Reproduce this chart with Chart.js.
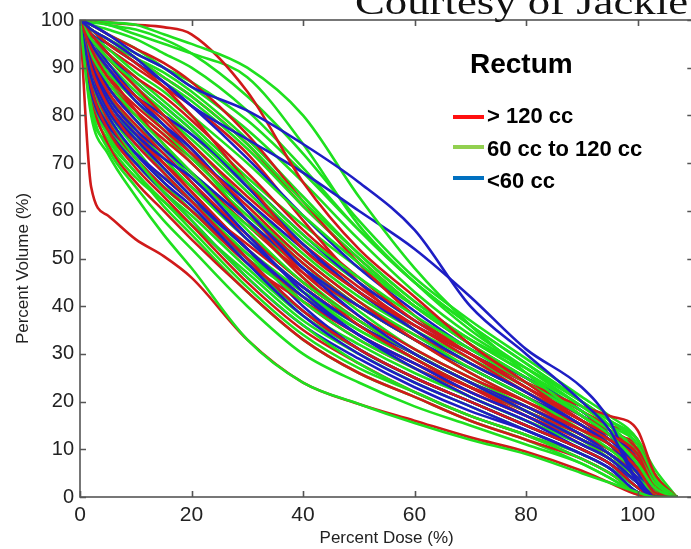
<!DOCTYPE html>
<html>
<head>
<meta charset="utf-8">
<script src="https://cdn.jsdelivr.net/npm/chart.js@4/dist/chart.umd.min.js"></script>
<style>
  html, body { margin: 0; padding: 0; background: #fff; overflow: hidden; }
  #wrap { width: 700px; height: 549px; }
</style>
</head>
<body>
<div id="wrap"><canvas id="dvh" width="700" height="549"></canvas></div>
<script>
// Dose grid (percent of prescription) shared by every DVH curve
const doseGrid = [0, 2, 5, 10, 15, 20, 30, 40, 50, 60, 70, 80, 90, 95, 100, 103, 107];

// Percent rectal volume receiving at least each dose, one row per patient
const redVolumes = [ // rectum > 120 cc
  [100, 65, 59, 54, 50.5, 46, 33, 24, 19.5, 16, 12.5, 9.5, 5.5, 3, 0.5, 0, 0],
  [100, 100, 99.5, 99, 98.5, 97, 85, 66, 52, 42, 32, 24, 16, 13, 9, 2, 0],
  [100, 94, 88, 82, 77, 72, 61, 50, 41, 33, 26, 20, 14, 11, 6, 1, 0],
  [100, 90, 82, 74, 68, 62, 50, 39, 31, 25, 20, 15, 10, 7, 2, 0, 0],
  [100, 97, 93, 88, 84, 79, 68, 56, 46, 37, 30, 23, 16, 13, 10, 3, 0],
  [100, 86, 77, 69, 63, 57, 45, 35, 28, 22, 17, 13, 8, 5, 1, 0, 0],
  [100, 98, 95, 91, 86, 80, 66, 52, 43, 36, 30, 24, 19, 17, 14, 5, 0],
  [100, 92, 85, 78, 72, 66, 55, 45, 37, 30, 24, 18, 12, 9, 4, 0.5, 0],
  [100, 95, 90, 84, 79, 73, 60, 47, 38, 31, 25, 20, 15, 12, 8, 2, 0],
  [100, 88, 79, 71, 65, 60, 49, 41, 34, 28, 22, 17, 12, 9, 5, 1, 0],
  [100, 96, 92, 86, 80, 74, 63, 53, 44, 36, 29, 22, 15, 11, 6, 1, 0],
  [100, 93, 86, 80, 75, 70, 58, 46, 36, 29, 23, 17, 11, 8, 3, 0, 0],
  [100, 99, 97, 94, 91, 87, 76, 62, 49, 38, 30, 23, 17, 14, 10, 3, 0],
  [100, 84, 74, 66, 60, 54, 43, 33, 26, 21, 16, 12, 8, 5, 1, 0, 0],
  [100, 91, 84, 77, 70, 64, 52, 42, 34, 28, 23, 18, 13, 10, 7, 2, 0],
  [100, 97, 94, 90, 86, 82, 72, 58, 45, 35, 28, 22, 16, 12, 8, 2, 0],
  [100, 89, 80, 72, 67, 62, 53, 44, 36, 29, 23, 19, 14, 12, 9, 3, 0],
  [100, 95, 89, 81, 74, 68, 57, 47, 40, 34, 28, 22, 16, 13, 11, 4, 0],
  [100, 93, 87, 81, 76, 71, 60, 49, 40, 33, 27, 21, 15, 11, 5, 0.5, 0],
  [100, 87, 81, 75, 70, 65, 55, 45, 37, 30, 24, 19, 13, 10, 6, 1, 0],
  [100, 98, 96, 92, 88, 84, 74, 61, 50, 40, 32, 25, 18, 15, 12, 4, 0],
  [100, 90, 83, 76, 70, 64, 52, 41, 33, 27, 22, 17, 12, 9, 4, 0, 0]
];
const greenVolumes = [ // rectum 60-120 cc
  [100, 80, 72, 63, 55, 48, 33, 24, 19.5, 15.5, 12, 9, 5, 3, 1, 0, 0],
  [100, 100, 99.5, 99, 97, 95, 90, 80, 63, 48, 36, 26, 17, 13, 7, 2, 0],
  [100, 99.5, 99, 97, 95, 93, 88, 74, 57, 45, 35, 27, 19, 15, 9, 3, 0],
  [100, 88, 80, 71, 64, 58, 46, 36, 28, 22, 17, 13, 8, 5, 1, 0, 0],
  [100, 96, 92, 87, 82, 77, 66, 55, 46, 38, 31, 24, 17, 13, 7, 2, 0],
  [100, 93, 87, 80, 74, 68, 56, 45, 37, 30, 24, 18, 12, 9, 4, 1, 0],
  [100, 98, 96, 92, 88, 84, 74, 62, 51, 41, 33, 26, 19, 15, 11, 4, 0],
  [100, 85, 76, 68, 62, 56, 44, 34, 27, 22, 17, 13, 9, 6, 2, 0, 0],
  [100, 94, 89, 83, 77, 71, 60, 50, 41, 34, 27, 21, 14, 10, 5, 1, 0],
  [100, 90, 83, 75, 68, 62, 51, 41, 33, 27, 21, 16, 11, 8, 3, 0, 0],
  [100, 97, 94, 89, 85, 80, 70, 59, 49, 40, 32, 25, 18, 14, 10, 4, 0],
  [100, 99, 98, 96, 93, 90, 81, 69, 56, 45, 36, 28, 20, 16, 11, 4, 0],
  [100, 82, 73, 65, 58, 52, 40, 30, 24, 19, 15, 11, 7, 4, 1, 0, 0],
  [100, 95, 91, 85, 80, 75, 64, 53, 43, 35, 28, 22, 15, 11, 6, 1, 0],
  [100, 92, 86, 79, 73, 67, 57, 48, 40, 33, 27, 21, 15, 12, 8, 3, 0],
  [100, 87, 78, 70, 64, 59, 48, 38, 31, 25, 20, 15, 10, 7, 2, 0, 0],
  [100, 98, 95, 91, 87, 83, 73, 61, 50, 40, 32, 25, 17, 13, 8, 2, 0],
  [100, 91, 84, 77, 71, 65, 54, 44, 36, 29, 23, 18, 13, 10, 6, 1, 0],
  [100, 96, 93, 88, 83, 78, 67, 57, 48, 40, 33, 27, 20, 16, 12, 6, 0],
  [100, 89, 81, 73, 66, 60, 49, 39, 32, 26, 21, 16, 11, 8, 4, 0, 0],
  [100, 99, 97, 94, 90, 86, 77, 66, 54, 43, 34, 27, 20, 16, 12, 5, 0],
  [100, 94, 88, 81, 76, 70, 59, 49, 40, 33, 26, 20, 14, 11, 7, 2, 0],
  [100, 83, 75, 68, 61, 55, 43, 33, 26, 21, 16, 12, 7, 4, 0.5, 0, 0],
  [100, 97, 93, 86, 80, 74, 62, 51, 42, 35, 29, 23, 16, 12, 8, 3, 0],
  [100, 86, 78, 71, 65, 60, 50, 42, 35, 29, 23, 18, 12, 9, 5, 1, 0],
  [100, 100, 99, 98, 96, 93, 84, 72, 58, 46, 37, 29, 21, 17, 12, 4, 0],
  [100, 95, 90, 84, 78, 72, 58, 46, 37, 30, 24, 19, 13, 10, 6, 1, 0],
  [100, 90, 84, 78, 73, 68, 58, 48, 39, 31, 25, 19, 13, 9, 4, 0, 0],
  [100, 97, 95, 92, 89, 85, 75, 63, 51, 41, 33, 26, 18, 14, 9, 2, 0],
  [100, 84, 76, 70, 65, 60, 51, 43, 36, 30, 24, 19, 13, 10, 5, 1, 0],
  [100, 92, 85, 76, 69, 63, 52, 43, 35, 29, 23, 18, 12, 8, 3, 0, 0],
  [100, 98, 96, 93, 90, 87, 79, 68, 56, 45, 36, 28, 20, 15, 9, 2, 0],
  [100, 81, 74, 67, 62, 57, 47, 37, 30, 24, 19, 14, 9, 6, 2, 0, 0],
  [100, 96, 92, 86, 81, 76, 65, 54, 45, 37, 31, 25, 18, 14, 9, 3, 0]
];
const blueVolumes = [ // rectum < 60 cc
  [100, 99, 97, 93, 90, 86, 81, 74, 66, 56, 40, 30, 20, 14, 3, 0, 0],
  [100, 98, 96, 92, 87, 82, 75, 68, 60, 52, 42, 31, 23, 16, 3, 0, 0],
  [100, 88, 80, 72, 66, 61, 49, 38, 30, 24, 19, 14, 9, 6, 1, 0, 0],
  [100, 91, 83, 76, 71, 67, 55, 43, 34, 27, 21, 16, 10, 7, 2, 0, 0],
  [100, 95, 90, 83, 78, 73, 60, 48, 38, 30, 24, 18, 12, 9, 4, 0, 0],
  [100, 85, 77, 70, 64, 58, 46, 36, 29, 23, 18, 14, 9, 6, 1, 0, 0],
  [100, 97, 93, 87, 82, 77, 65, 53, 43, 35, 28, 22, 15, 11, 5, 0, 0],
  [100, 90, 82, 75, 69, 63, 52, 42, 34, 28, 22, 17, 11, 8, 3, 0, 0],
  [100, 93, 86, 79, 73, 68, 58, 48, 40, 33, 27, 21, 15, 11, 6, 1, 0],
  [100, 86, 78, 72, 67, 62, 52, 40, 31, 25, 20, 15, 10, 7, 2, 0, 0],
  [100, 96, 91, 84, 78, 72, 62, 52, 43, 36, 30, 24, 17, 13, 8, 1, 0],
  [100, 92, 84, 77, 72, 66, 54, 44, 36, 30, 24, 19, 13, 9, 4, 0, 0],
  [100, 94, 89, 84, 80, 76, 66, 55, 45, 37, 30, 23, 16, 12, 6, 0, 0],
  [100, 89, 81, 74, 68, 62, 50, 39, 31, 25, 20, 15, 10, 7, 3, 0, 0],
  [100, 97, 95, 91, 87, 82, 71, 59, 48, 39, 31, 25, 18, 13, 6, 0, 0]
];

const xTickValues = [0, 20, 40, 60, 80, 100];
const yTickValues = [0, 10, 20, 30, 40, 50, 60, 70, 80, 90, 100];
const legendTitle = 'Rectum';
const legendLabels = ['> 120 cc', '60 cc to 120 cc', '<60 cc'];
const legendColors = ['#ff1010', '#92d050', '#0070c0'];
const lineColors = { red: '#d01a1a', green: '#1fe01f', blue: '#1e1ec4' };

function curve(vols, color) {
  return {
    data: doseGrid.map((d, i) => ({ x: d, y: vols[i] })),
    borderColor: color,
    borderWidth: 2.6,
    pointRadius: 0,
    fill: false,
    cubicInterpolationMode: 'monotone'
  };
}

// Interleave the three size groups so no colour sits entirely on top
const datasets = [];
const n = Math.max(redVolumes.length, greenVolumes.length, blueVolumes.length);
for (let i = 0; i < n; i++) {
  if (greenVolumes[i]) datasets.push(curve(greenVolumes[i], lineColors.green));
  if (redVolumes[i]) datasets.push(curve(redVolumes[i], lineColors.red));
  if (blueVolumes[i]) datasets.push(curve(blueVolumes[i], lineColors.blue));
}

const SANS = '"Liberation Sans", Arial, Helvetica, sans-serif';
const SERIF = '"Liberation Serif", "Times New Roman", serif';

// Boxed axes with inward ticks on every side, axis titles, legend and credit line
const decorations = {
  id: 'decorations',
  afterDraw(chart) {
    const { ctx, chartArea: a, scales } = chart;
    ctx.save();
    ctx.strokeStyle = '#555';
    ctx.lineWidth = 1.6;
    ctx.strokeRect(a.left, a.top, a.right - a.left, a.bottom - a.top);
    const t = 6;
    ctx.beginPath();
    xTickValues.forEach(v => {
      const px = Math.round(scales.x.getPixelForValue(v)) + 0.5;
      ctx.moveTo(px, a.bottom); ctx.lineTo(px, a.bottom - t);
      ctx.moveTo(px, a.top); ctx.lineTo(px, a.top + t);
    });
    yTickValues.forEach(v => {
      const py = Math.round(scales.y.getPixelForValue(v)) + 0.5;
      ctx.moveTo(a.left, py); ctx.lineTo(a.left + t, py);
      ctx.moveTo(a.right, py); ctx.lineTo(a.right - t, py);
    });
    ctx.stroke();

    // axis titles
    ctx.fillStyle = '#222';
    ctx.font = '17px ' + SANS;
    ctx.textAlign = 'center';
    ctx.textBaseline = 'alphabetic';
    ctx.fillText('Percent Dose (%)', (a.left + a.right) / 2, 543);
    ctx.save();
    ctx.translate(28, (a.top + a.bottom) / 2 + 10);
    ctx.rotate(-Math.PI / 2);
    ctx.fillText('Percent Volume (%)', 0, 0);
    ctx.restore();

    // legend
    ctx.fillStyle = '#000';
    ctx.textAlign = 'left';
    ctx.font = 'bold 28px ' + SANS;
    ctx.fillText(legendTitle, 470, 73);
    ctx.font = 'bold 22px ' + SANS;
    const rows = [123, 156, 188];
    const lines = [117, 147, 178];
    legendLabels.forEach((lab, i) => {
      ctx.fillStyle = legendColors[i];
      ctx.fillRect(453, lines[i] - 2, 31, 4);
      ctx.fillStyle = '#000';
      ctx.fillText(lab, 487, rows[i]);
    });

    // credit line along the top edge, set in a wide serif
    const credit = 'Courtesy of Jackie';
    ctx.font = '36px ' + SERIF;
    const w = ctx.measureText(credit).width;
    ctx.fillStyle = '#111';
    ctx.save();
    ctx.translate(355, 14);
    ctx.scale(333 / w, 1);
    ctx.fillText(credit, 0, 0);
    ctx.restore();
    ctx.restore();
  }
};

new Chart(document.getElementById('dvh'), {
  type: 'line',
  data: { datasets },
  plugins: [decorations],
  options: {
    responsive: false,
    animation: false,
    devicePixelRatio: 1,
    layout: { padding: { top: 20, right: 6.7, left: 0, bottom: 0 } },
    plugins: { legend: { display: false }, tooltip: { enabled: false } },
    elements: { line: { borderCapStyle: 'round', borderJoinStyle: 'round' } },
    scales: {
      x: {
        type: 'linear', min: 0, max: 110,
        afterBuildTicks: s => { s.ticks = xTickValues.map(v => ({ value: v })); },
        afterFit: s => { s.height = 52; },
        grid: { display: false, drawTicks: false },
        border: { display: false },
        ticks: { color: '#222', padding: 6, maxRotation: 0, font: { family: SANS, size: 21 } }
      },
      y: {
        type: 'linear', min: 0, max: 100,
        afterBuildTicks: s => { s.ticks = yTickValues.map(v => ({ value: v })); },
        afterFit: s => { s.width = 80; },
        grid: { display: false, drawTicks: false },
        border: { display: false },
        ticks: { color: '#222', padding: 6, font: { family: SANS, size: 20 } }
      }
    }
  }
});
</script>
</body>
</html>
